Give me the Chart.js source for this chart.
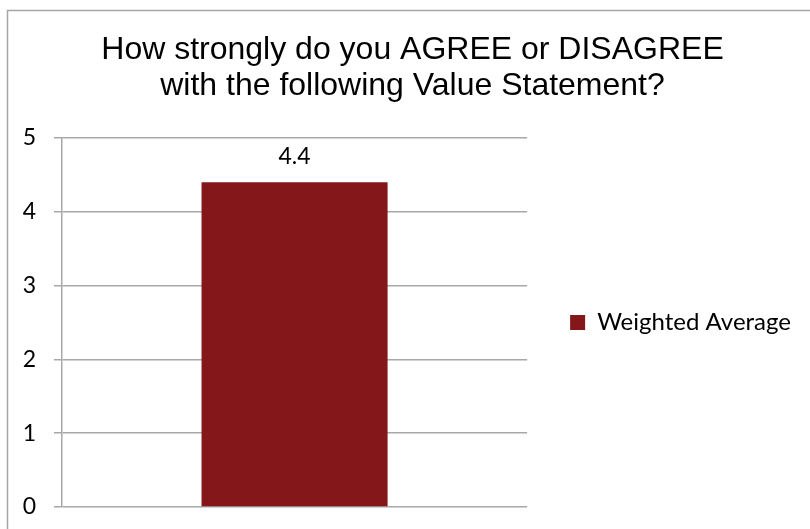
<!DOCTYPE html>
<html>
<head>
<meta charset="utf-8">
<script src="https://cdn.jsdelivr.net/npm/chart.js@4.4.0/dist/chart.umd.min.js"></script>
<style>
  html, body { margin: 0; padding: 0; background: #fff; }
  #wrap { width: 810px; height: 529px; position: relative; }
</style>
</head>
<body>
<div id="wrap"><canvas id="chart"></canvas></div>
<script>
const categories = [""];
const seriesName = "Weighted Average";
const seriesValues = [4.4];
const titleLines = ["How strongly do you AGREE or DISAGREE", "with the following Value Statement?"];
const yTicks = [0, 1, 2, 3, 4, 5];

const barColor = "#841719";
const gridColor = "#a8a8a8";

// thin frame, left and top only (rest is cropped in the original)
const framePlugin = {
  id: "frame",
  beforeDraw(chart) {
    const ctx = chart.ctx;
    ctx.save();
    ctx.strokeStyle = "#a6a6a6";
    ctx.lineWidth = 1.5;
    ctx.beginPath();
    ctx.moveTo(7.5, chart.height);
    ctx.lineTo(7.5, 10.5);
    ctx.lineTo(chart.width, 10.5);
    ctx.stroke();
    ctx.restore();
  },
};

// the original title is centred on the full (uncropped) frame
const titleShift = {
  id: "titleShift",
  afterLayout(chart) {
    if (chart.titleBlock) chart.titleBlock.left = 24;
  },
};

// value label above the bar
const valueLabels = {
  id: "valueLabels",
  afterDatasetsDraw(chart) {
    const ctx = chart.ctx;
    const meta = chart.getDatasetMeta(0);
    ctx.save();
    ctx.font = "23px Lato";
    ctx.fillStyle = "#000";
    ctx.textAlign = "center";
    ctx.textBaseline = "middle";
    meta.data.forEach((bar, i) => {
      ctx.fillText(seriesValues[i].toFixed(1), bar.x, bar.y - 26);
    });
    ctx.restore();
  },
};

new Chart(document.getElementById("chart"), {
  type: "bar",
  data: {
    labels: categories,
    datasets: [
      {
        label: seriesName,
        data: seriesValues,
        backgroundColor: barColor,
        borderWidth: 0,
        barPercentage: 0.4,
        categoryPercentage: 1,
      },
    ],
  },
  options: {
    responsive: true,
    maintainAspectRatio: false,
    animation: false,
    layout: { padding: { left: 0, right: 9, top: 0, bottom: 22 } },
    plugins: {
      title: {
        display: true,
        text: titleLines,
        color: "#000",
        font: { family: "Liberation Sans", size: 32, weight: "normal", lineHeight: 1.125 },
        padding: { top: 32, bottom: 34 },
      },
      legend: {
        position: "right",
        fullSize: false,
        maxWidth: 320,
        labels: {
          boxWidth: 15,
          boxHeight: 15,
          padding: 43,
          color: "#000",
          font: { family: "Lato", size: 24 },
        },
      },
      tooltip: { enabled: false },
    },
    scales: {
      x: { display: false },
      y: {
        min: 0,
        max: 5,
        ticks: {
          stepSize: 1,
          padding: 18,
          color: "#000",
          font: { family: "Lato", size: 23, lineHeight: 0.3 },
          callback: (v) => (yTicks.includes(v) ? String(v) : ""),
        },
        grid: { color: gridColor, lineWidth: 1.5, tickLength: 8 },
        border: { display: true, color: gridColor, width: 1.5 },
        afterFit(scale) {
          scale.width = 62;
        },
      },
    },
  },
  plugins: [framePlugin, titleShift, valueLabels],
});
</script>
</body>
</html>
